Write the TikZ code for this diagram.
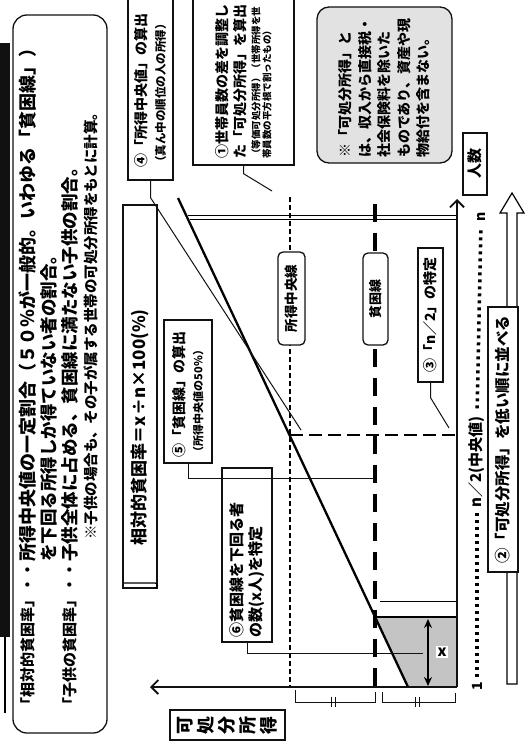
\documentclass[tikz,border=0pt]{standalone}
\usepackage{fontspec}
\setmainfont{Noto Sans CJK JP}
\usepackage{xcolor}
\definecolor{scanInk}{HTML}{111111}
\definecolor{scanShade}{HTML}{C4C4C4}
\definecolor{scanNote}{HTML}{E2E2E2}
\usepackage{tikz}
\usetikzlibrary{arrows.meta,positioning,calc}
\tikzset{
    callout/.style={
        draw=scanInk,
        fill=white,
        rectangle,
        rotate=90,
        line width=1.3pt,
        align=left,
        inner ysep=3pt,
        font=\fontsize{14}{18}\selectfont\bfseries
    },
    tag/.style={
        draw=scanInk,
        fill=white,
        rectangle,
        rounded corners=5pt,
        rotate=90,
        line width=1.3pt,
        inner sep=0pt,
        font=\fontsize{13.5}{16}\selectfont\bfseries
    },
    headline/.style={
        rotate=90,
        anchor=west,
        inner sep=0pt,
        font=\fontsize{17.5}{20}\selectfont\bfseries
    },
    tick/.style={
        rotate=90,
        inner sep=0pt,
        font=\fontsize{14}{16}\selectfont\bfseries
    },
    leader/.style={
        line width=1pt,
        color=scanInk
    },
    axisline/.style={
        -{Straight Barb[length=7pt,width=14pt]},
        line width=1.8pt,
        color=scanInk
    },
    medline/.style={line width=1.3pt, dash pattern=on 5pt off 3pt},
    povline/.style={line width=3.2pt, dash pattern=on 18pt off 11pt},
    halfline/.style={line width=2.3pt, dash pattern=on 13pt off 6pt},
    dotrow/.style={line width=3.5pt, dash pattern=on 3pt off 4pt},
    bracket/.style={line width=1pt, color=scanInk}
}

\begin{document}
\begin{tikzpicture}[x=1pt, y=-1pt]
    \useasboundingbox (0,0) rectangle (525,743);
    \clip (0,0) rectangle (525,743);
    \fill[white] (0,0) rectangle (525,743);

    % Definitions at the head of the page
    \fill[scanInk] (0,43) rectangle (10,637);
    \draw[line width=2pt] (5,637) -- (5,713);
    \node[draw=scanInk, line width=1.3pt, rounded corners=14pt, minimum width=94pt, minimum height=718pt, inner sep=0pt] (hdr) at (60,374) {};
    \node[headline, font=\fontsize{15}{18}\selectfont\bfseries] (hdrRel) at (28,713) {「相対的貧困率」・・};
    \node[headline, font=\fontsize{18}{20}\selectfont\bfseries] (hdrRelB) at (28,562) {所得中央値の一定割合（５０％が一般的。いわゆる「貧困線」）};
    \node[headline] (hdrRelC) at (49,562) {を下回る所得しか得ていない者の割合。};
    \node[headline, font=\fontsize{15}{18}\selectfont\bfseries] (hdrKid) at (70,713) {「子供の貧困率」・・};
    \node[headline] (hdrKidB) at (70,562) {子供全体に占める、貧困線に満たない子供の割合。};
    \node[headline, font=\fontsize{14.5}{18}\selectfont\bfseries] (hdrNote) at (91,540) {※子供の場合も、その子が属する世帯の可処分所得をもとに計算。};

    % Formula
    \node[callout, font=\fontsize{17}{20}\selectfont\bfseries, text width=297pt, inner xsep=43pt, minimum height=34pt] (ratio) at (140,396.5) {相対的貧困率＝x÷n×100(\%)};
    \draw[line width=1.2pt] (124,583) -- (155,583) arc[start angle=90, end angle=-90, radius=2.5pt];

    % Steps
    \node[callout, text width=161pt, inner xsep=12pt, minimum height=45pt] (stepMed) at (150.5,87.5) {④「所得中央値」の算出\\{\fontsize{11.5}{14}\selectfont （真ん中の順位の人の所得）}};
    \node[callout, text width=158pt, inner xsep=6pt, minimum height=101pt] (stepAdj) at (243.5,80) {①世帯員数の差を調整し\\た「可処分所得」を算出\\[-4pt]{\fontsize{9.5}{11}\selectfont （等価可処分所得）（世帯所得を世}\\[-7pt]{\fontsize{9.5}{11}\selectfont 帯員数の平方根で割ったもの）}};
    \node[callout, rounded corners=12pt, fill=scanNote, text width=146pt, inner xsep=5pt, minimum height=135pt, font=\fontsize{14}{19.5}\selectfont\bfseries] (note) at (384.5,85) {※「可処分所得」と\\は、収入から直接税・\\社会保険料を除いた\\ものであり、資産や現\\物給付を含まない。};
    \node[callout, text width=131pt, inner xsep=6pt, minimum height=48pt] (stepPov) at (188,391.5) {⑤「貧困線」の算出\\{\fontsize{11}{14}\selectfont （所得中央値の50\%）}};
    \node[callout, font=\fontsize{15}{19}\selectfont\bfseries, text width=164pt, inner xsep=5pt, minimum height=50pt] (stepCount) at (247,555) {⑥貧困線を下回る者\\の数(x人)を特定};

    % Chart points
    \coordinate (origin) at (457,687);
    \coordinate (incomeEnd) at (150,687);
    \coordinate (countEnd) at (457,199);
    \coordinate (lowest) at (408,687);
    \coordinate (highest) at (178,198);
    \coordinate (medPt) at (290,435);
    \coordinate (halfPt) at (457,435);
    \coordinate (povPt) at (375,617);
    \coordinate (povEdge) at (457,617);
    \coordinate (medTop) at (290,197);
    \coordinate (medFoot) at (290,687);
    \coordinate (povTop) at (375,204);
    \coordinate (povFoot) at (375,687);

    % Children under the poverty line
    \fill[scanShade] (povPt) -- (povEdge) -- (origin) -- (lowest) -- cycle;

    % Chart lines
    \draw[line width=0.8pt] (188,215.5) -- (457,215.5);
    \draw[line width=0.8pt] (190,219.5) -- (457,219.5);
    \draw[medline] (medTop) -- (medFoot);
    \draw[povline] (povTop) -- (povFoot);
    \draw[halfline] (medPt) -- (halfPt);
    \draw[line width=0.8pt] (380,601) -- (457,601);
    \draw[line width=1.5pt] (povPt) -- (povEdge);
    \draw[line width=2.3pt] (lowest) -- (highest);
    \draw[axisline] (origin) -- (incomeEnd);
    \draw[axisline] (origin) -- (countEnd);

    % Labels on the lines
    \node[tag, minimum width=93pt, minimum height=27pt] (medTag) at (291.5,298.5) {所得中央線};
    \node[tag, minimum width=92pt, minimum height=25pt, font=\fontsize{13}{16}\selectfont\bfseries] (povTag) at (375.5,299) {貧困線};
    \node[callout, minimum width=134pt, minimum height=25pt, inner sep=0pt] (stepHalf) at (430.5,315) {③「n／2」の特定};
    \node[callout, minimum width=62pt, minimum height=24pt, inner sep=0pt, line width=1.8pt, font=\fontsize{15}{18}\selectfont\bfseries] (countTag) at (475,164) {人数};

    % Count of x
    \coordinate (xTop) at (428,619);
    \coordinate (xBot) at (428,686);
    \draw[{Stealth[length=9pt,width=8pt]}-{Stealth[length=9pt,width=8pt]}, line width=2pt] (xTop) -- (xBot);
    \node[fill=white, inner sep=1.5pt, font=\fontsize{15}{16}\selectfont\bfseries] (xMark) at (442,652) {x};

    % Leaders
    \coordinate (medMark) at (301,430);
    \coordinate (halfMark) at (449,428);
    \coordinate (topMark) at (272,191);
    \coordinate (povMark) at (375,478);
    \coordinate (countMark) at (423,653);
    \draw[leader] (stepMed.west) -- ++(0,17) -- (medMark);
    \draw[leader] (stepHalf.west) -- ++(0,15) -- (halfMark);
    \draw[leader] (stepAdj.west) -- ++(0,8) -- (topMark);
    \draw[leader] (stepPov.west) |- (povMark);
    \draw[leader] (stepCount.west) |- (countMark);

    % Equal halves under the income axis
    \draw[bracket] (295,690) |- (375,702) -- (375,692);
    \draw[bracket] (331,697) -- (331,707) (335,697) -- (335,707);
    \draw[bracket] (382,692) |- (455,702) -- (455,693);
    \draw[bracket] (415,697) -- (415,707) (419,697) -- (419,707);
    \node[draw=scanInk, rotate=90, align=center, line width=1.8pt, minimum width=30pt, minimum height=115pt, inner sep=0pt, font=\fontsize{18}{21}\selectfont\bfseries] (incomeTag) at (227.5,725) {可\\処\\分\\所\\得};

    % Ranks 1 ... n
    \node[tick] (oneLbl) at (477,686) {1};
    \node[tick, font=\fontsize{15}{17}\selectfont\bfseries] (halfLbl) at (477,462) {n／2(中央値)};
    \node[tick] (nLbl) at (481,217) {n};
    \draw[dotrow, shorten <=5pt, shorten >=5pt] (oneLbl.east) -- (halfLbl.west);
    \draw[dotrow, shorten <=8pt, shorten >=8pt] (halfLbl.east) -- (nLbl.west);

    % Sorting arrow
    \draw[line width=1.2pt, fill=white] (507,684) -- (507,213) -- (500,213) -- (512,193) -- (524,213) -- (517,213) -- (517,684) -- cycle;
    \node[callout, minimum width=265pt, minimum height=30pt, inner sep=0pt, font=\fontsize{15.5}{18}\selectfont\bfseries] (stepSort) at (503,439.5) {②「可処分所得」を低い順に並べる};
\end{tikzpicture}
\end{document}
